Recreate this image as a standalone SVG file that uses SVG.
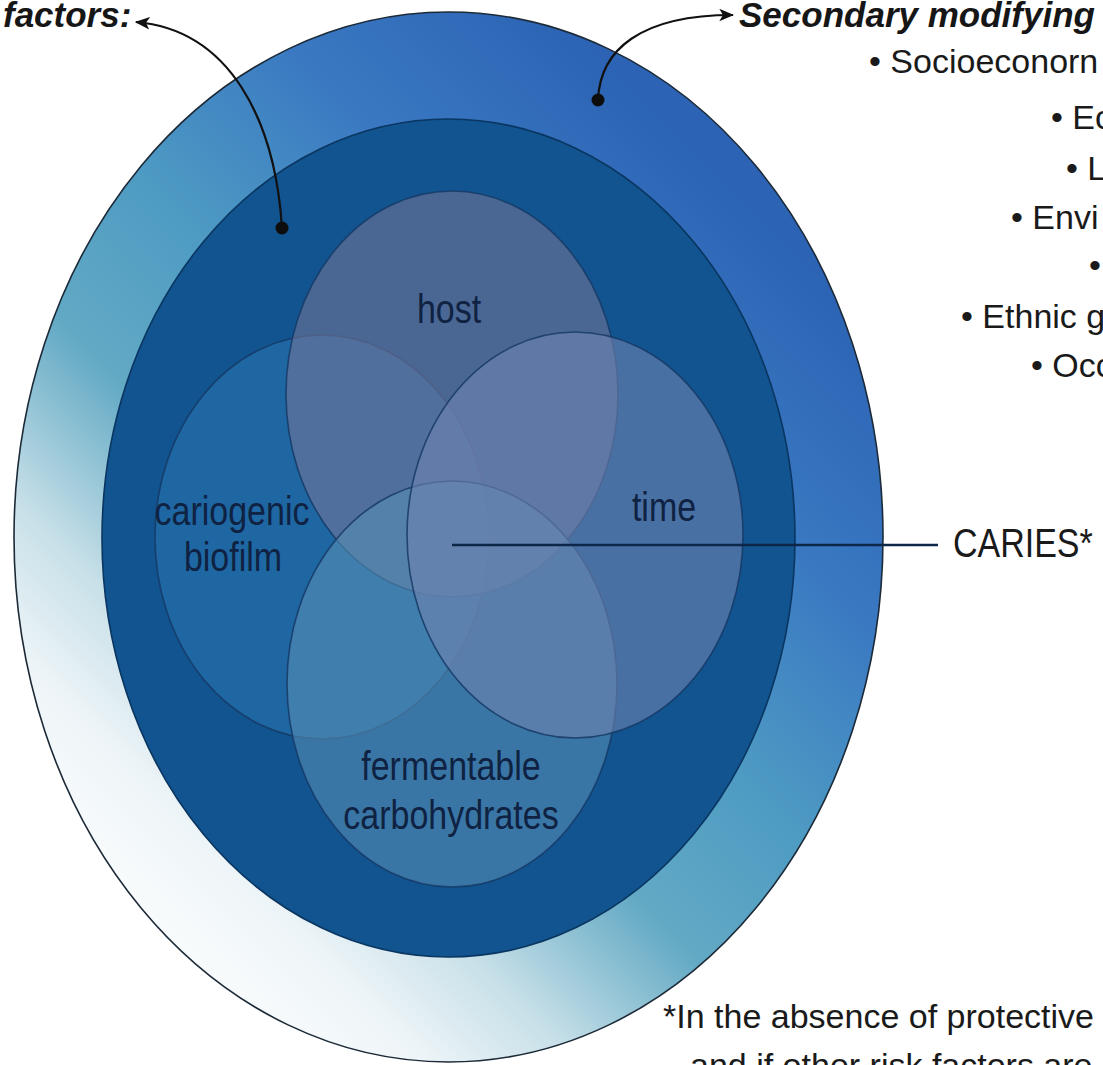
<svg xmlns="http://www.w3.org/2000/svg" width="1103" height="1065" viewBox="0 0 1103 1065">
  <defs>
    <linearGradient id="outerGrad" gradientUnits="userSpaceOnUse" x1="100" y1="950" x2="800" y2="250">
      <stop offset="0" stop-color="#ffffff"/>
      <stop offset="0.15" stop-color="#eef5f8"/>
      <stop offset="0.26" stop-color="#c8e0e8"/>
      <stop offset="0.42" stop-color="#62a9c4"/>
      <stop offset="0.58" stop-color="#4e9bc3"/>
      <stop offset="0.78" stop-color="#3a79c2"/>
      <stop offset="1" stop-color="#2c63b4"/>
    </linearGradient>
    <marker id="arrow" viewBox="0 0 12 10" refX="11" refY="5" markerWidth="15" markerHeight="13" markerUnits="userSpaceOnUse" orient="auto">
      <path d="M0,0 L12,5 L0,10 L3,5 z" fill="#111"/>
    </marker>
    <style>
      .ring { stroke-width: 1.6; }
      .venn { fill-opacity: 0.6; stroke: #163a66; stroke-width: 1.6; stroke-opacity: 0.85; }
      .inlabel { font-family: "Liberation Sans", Arial, sans-serif; font-size: 34px; fill: #0f2242; text-anchor: middle; }
      .head { font-family: "Liberation Sans", Arial, sans-serif; font-size: 35px; font-weight: bold; font-style: italic; fill: #161616; }
      .list { font-family: "Liberation Sans", Arial, sans-serif; font-size: 34px; fill: #1a1a1a; }
      .conn { fill: none; stroke: #111; stroke-width: 2.2; }
      .dot { fill: #0d0d0d; }
    </style>
  </defs>

  <rect width="1103" height="1065" fill="#ffffff"/>

  <g id="outer-ring">
    <ellipse class="ring" cx="448.5" cy="537" rx="434.5" ry="525" fill="url(#outerGrad)" stroke="#1c2a38"/>
  </g>
  <g id="inner-ring">
    <ellipse class="ring" cx="448.5" cy="538" rx="346.5" ry="419" fill="#11548f" stroke="#0a3661"/>
  </g>

  <g id="biofilm">
    <ellipse class="venn" cx="322" cy="537" rx="167" ry="202" fill="#2875af"/>
  </g>
  <g id="host">
    <ellipse class="venn" cx="452" cy="394" rx="166" ry="203" fill="#727597"/>
  </g>
  <g id="fermentable">
    <ellipse class="venn" cx="452" cy="684" rx="165" ry="203" fill="#578eb4"/>
  </g>
  <g id="time">
    <ellipse class="venn" cx="575" cy="535" rx="168" ry="203" fill="#7083b0"/>
  </g>

  <g id="labels-inner">
    <text class="inlabel" transform="translate(449,323) scale(1,1.22)">host</text>
    <text class="inlabel" transform="translate(664,521) scale(1,1.22)">time</text>
    <text class="inlabel" transform="translate(232,525) scale(1,1.22)">cariogenic</text>
    <text class="inlabel" transform="translate(233,571) scale(1,1.22)">biofilm</text>
    <text class="inlabel" transform="translate(451,780) scale(1,1.22)">fermentable</text>
    <text class="inlabel" transform="translate(451,829) scale(1,1.22)">carbohydrates</text>
  </g>

  <g id="connectors">
    <path class="conn" d="M 282 228 C 275 120, 230 30, 136 22" marker-end="url(#arrow)"/>
    <path class="conn" d="M 598 100 C 600 50, 640 15, 733 15" marker-end="url(#arrow)"/>
    <circle class="dot" cx="282" cy="228" r="6.5"/>
    <circle class="dot" cx="598" cy="100" r="6.5"/>
    <line x1="452" y1="545" x2="938" y2="545" stroke="#0d2748" stroke-width="2.4"/>
  </g>

  <g id="factors-label">
    <text class="head" x="3" y="27" font-size="33">factors:</text>
  </g>
  <g id="secondary-label">
    <text class="head" x="739" y="27">Secondary modifying</text>
  </g>

  <g id="secondary-list">
    <text class="list" x="869" y="73">• Socioeconorn</text>
    <text class="list" x="1051" y="129">• Ec</text>
    <text class="list" x="1066" y="180">• L</text>
    <text class="list" x="1011" y="229">• Envi</text>
    <text class="list" x="1089" y="277">•</text>
    <text class="list" x="961" y="328">• Ethnic g</text>
    <text class="list" x="1031" y="377">• Occ</text>
  </g>

  <g id="caries-label">
    <text class="list" transform="translate(953,557) scale(1,1.22)">CARIES*</text>
  </g>

  <g id="footnote">
    <text class="list" x="663" y="1028">*In the absence of protective</text>
    <text class="list" x="690" y="1077">and if other risk factors are</text>
  </g>
</svg>
